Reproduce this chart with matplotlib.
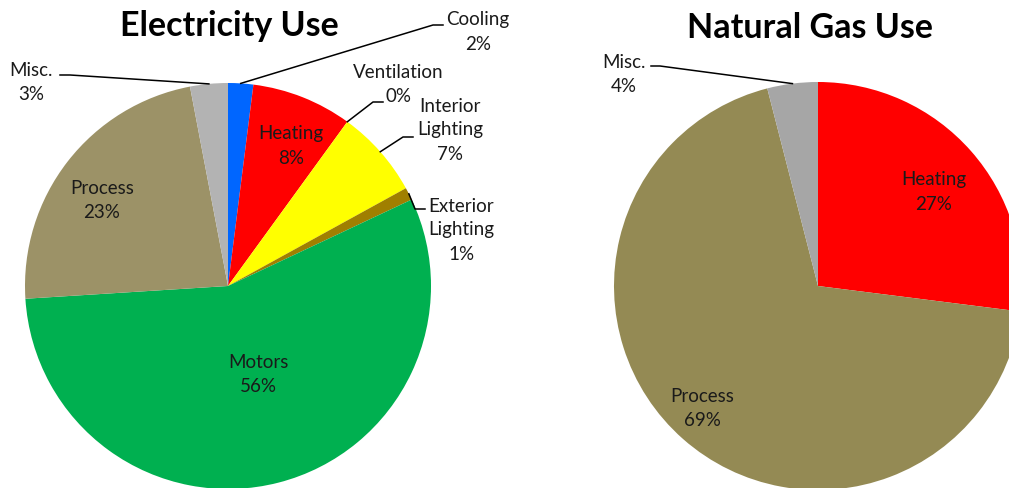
import numpy as np
import matplotlib.pyplot as plt

plt.rcParams['font.family'] = ['Lato', 'DejaVu Sans']

# data
elec_labels = ['Cooling', 'Heating', 'Ventilation', 'Interior\nLighting',
               'Exterior\nLighting', 'Motors', 'Process', 'Misc.']
elec_values = [2, 8, 0, 7, 1, 56, 23, 3]
elec_colors = ['#0066FF', '#FF0000', '#4F81BD', '#FFFF00', '#A07F00',
               '#00B050', '#9C9267', '#B3B3B3']

gas_labels = ['Heating', 'Process', 'Misc.']
gas_values = [27, 69, 4]
gas_colors = ['#FF0000', '#948A54', '#A6A6A6']

fig = plt.figure(figsize=(10.09, 4.89), dpi=100)
ax = fig.add_axes([0, 0, 1, 1])

R = 203
c_elec = (228, 287)
c_gas = (818, 287)

# y axis is inverted below: startangle=-90 + counterclock -> clockwise from top on screen
w_elec, _ = ax.pie(elec_values, colors=elec_colors, startangle=-90,
                   counterclock=True, radius=R, center=c_elec, frame=True,
                   wedgeprops=dict(linewidth=0))
w_gas, _ = ax.pie(gas_values, colors=gas_colors, startangle=-90,
                  counterclock=True, radius=R + 1, center=c_gas, frame=True,
                  wedgeprops=dict(linewidth=0))
ax.set_xlim(0, 1009)
ax.set_ylim(489, 0)   # pixel-like coords, y down
ax.set_aspect('equal')
ax.axis('off')


def edge_point(w, center, r, ang=None):
    if ang is None:
        ang = (w.theta1 + w.theta2) / 2
    a = np.deg2rad(ang)
    return center[0] + r * np.cos(a), center[1] + r * np.sin(a)


fs = 13.5
title_fs = 24.5
ls = 1.5


def lab(text, pct, x, y):
    ax.text(x, y, f'{text}\n{pct}%', ha='center', va='center', fontsize=fs,
            linespacing=ls, color='#1a1a1a')


ax.text(229, 26, 'Electricity Use', ha='center', va='center',
        fontsize=title_fs, fontweight='bold')
ax.text(810, 28, 'Natural Gas Use', ha='center', va='center',
        fontsize=title_fs, fontweight='bold')

# electricity labels
lab(elec_labels[0], elec_values[0], 478, 32)
lab(elec_labels[1], elec_values[1], 291, 146)
lab(elec_labels[2], elec_values[2], 398, 84)
lab(elec_labels[3], elec_values[3], 450, 130)
lab(elec_labels[4], elec_values[4], 461, 230)
lab(elec_labels[5], elec_values[5], 258, 374)
lab(elec_labels[6], elec_values[6], 102, 200)
lab(elec_labels[7], elec_values[7], 31, 83)

# gas labels
lab(gas_labels[0], gas_values[0], 934, 192)
lab(gas_labels[1], gas_values[1], 702, 408)
lab(gas_labels[2], gas_values[2], 624, 74)

# leader lines
line_kw = dict(color='black', linewidth=1.1)
pts = {
    0: [(433, 26), (443, 26)],
    2: [(373, 103), (383, 103)],
    3: [(403, 138), (413, 138)],
    4: [(415, 210), (425, 210)],
    7: [(70, 76), (60, 76)],
}
for i, tail in pts.items():
    ang = w_elec[i].theta1 if i == 2 else None
    x0, y0 = edge_point(w_elec[i], c_elec, R, ang)
    xs = [x0] + [p[0] for p in tail]
    ys = [y0] + [p[1] for p in tail]
    ax.plot(xs, ys, **line_kw)

x0, y0 = edge_point(w_gas[2], c_gas, R + 1)
ax.plot([x0, 660, 651], [y0, 67, 67], **line_kw)

fig.savefig('out.png', dpi=100)
